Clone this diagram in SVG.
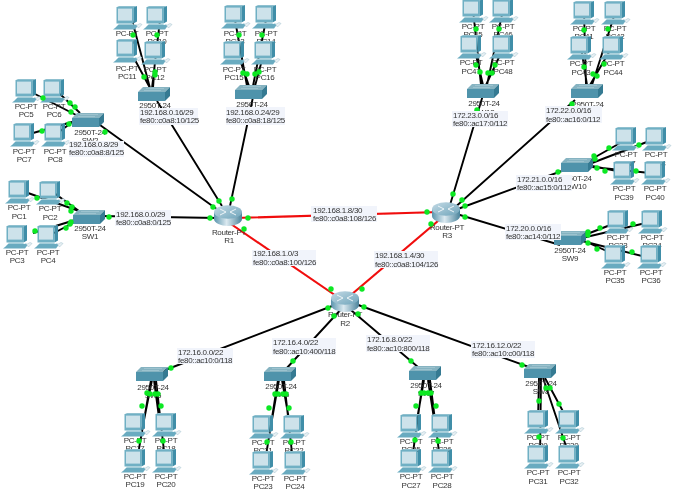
<svg xmlns="http://www.w3.org/2000/svg" width="676" height="494" viewBox="0 0 676 494">
<style>
text{font-family:"Liberation Sans",Arial,sans-serif;font-size:8px;letter-spacing:-.3px;fill:#333}
.n{text-anchor:middle}
.b{stroke:#000;stroke-width:1.9;fill:none}
.r{stroke:#f00a0a;stroke-width:2.100;fill:none}
.d{fill:#0ae824}
.lb{fill:#f1f4fb}
</style>
<defs>
<filter id="soft" filterUnits="userSpaceOnUse" x="0" y="0" width="676" height="494"><feGaussianBlur stdDeviation=".35"/></filter>
<linearGradient id="rg" x1="0" x2="1" y1="0" y2="0"><stop offset="0" stop-color="#5a95ad"/><stop offset=".45" stop-color="#dbe9f0"/><stop offset="1" stop-color="#4a839b"/></linearGradient>
<linearGradient id="rt" x1="0" x2="1" y1="0" y2="1"><stop offset="0" stop-color="#c4dae5"/><stop offset="1" stop-color="#6ea4ba"/></linearGradient>
<g id="pc">
<path d="M-10 1L-8 0H10L6.500 1.500Z" fill="#8fc0cf"/>
<rect x="-10.500" y="1" width="17" height="16.500" fill="#6fb0c4"/>
<rect x="-9" y="2.600" width="14" height="12" fill="#cde2ea"/>
<path d="M6.500 1.500L10 0V15.500L6.500 17.500Z" fill="#3f8ea8"/>
<path d="M-8 17.500H6L7 19H-9Z" fill="#a4cdd9"/>
<path d="M-9 19H7L9 18.500L11 19.500L8 23.500H-14L-12 22Z" fill="#69abc0"/>
<path d="M9.500 19.500L13 17.500L15 18.500L11.500 22Z" fill="#e8f0f3" stroke="#9cbfcc" stroke-width=".5"/>
</g>
<g id="sw">
<path d="M-11 0H16L11 5H-16Z" fill="#86b3c1"/>
<rect x="-16" y="5" width="27" height="9" fill="#4f93ab"/>
<path d="M11 5L16 0V9L11 14Z" fill="#357a92"/>
<path d="M-8 1.500H10M-10 3.500H7" stroke="#b4d2dc" stroke-width=".5"/>
</g>
<g id="rtr">
<path d="M-14 7V14C-14 18 -7 21 0 21S14 18 14 14V7Z" fill="url(#rg)"/>
<ellipse cx="0" cy="7" rx="14" ry="6.800" fill="url(#rt)"/>
<path d="M-8 4L-2 7M2 7L8 4M-8 10L-2 7M2 7L8 10" stroke="#eef5f8" stroke-width="1"/>
</g>
</defs>
<rect width="676" height="494" fill="#fff"/>
<g filter="url(#soft)">
<g id="connectors">
<path class="b" d="M100 216L218 218M100 125L218 210M157 101L222 206M253 97L230 206"/>
<path class="b" d="M483 95L450 205M575 100L452 210M570 168L455 210M450 212L560 245"/>
<path class="b" d="M340 303L160 372M345 305L285 370M345 305L425 373M350 302L540 371"/>
<path class="r" d="M235 218L440 212M228 222L345 302M445 215L345 300"/>
<path class="b" d="M28 193L79 211M50 190L79 211M33 233L75 220M50 235L75 222"/>
<path class="b" d="M35 94L80 117M60 94L80 113M33 133L72 122M55 135L75 120"/>
<path class="b" d="M132 20L150 88M160 20L152 88M135 60L150 88M155 60L153 88"/>
<path class="b" d="M235 20L247 86M266 20L253 86M240 60L249 86M262 60L255 86"/>
<path class="b" d="M473 10L481 85M503 10L487 85M476 55L483 85M500 55L486 85"/>
<path class="b" d="M584 12L586 85M616 10L592 85M581 47L587 85M612 47L590 85"/>
<path class="b" d="M622 142L590 160M652 140L592 163M622 172L592 166M650 173L592 167"/>
<path class="b" d="M618 222L582 236M650 222L582 238M618 256L582 240M650 258L582 241"/>
<path class="b" d="M137 460L151 380M143 425L152 380M160 425L154 380M165 460L156 380"/>
<path class="b" d="M265 462L278 380M271 425L279 380M290 425L282 380M293 462L284 380"/>
<path class="b" d="M412 460L423 380M416 425L424 380M435 425L428 380M440 460L430 380"/>
<path class="b" d="M538 420L539 378M540 460L541 378M569 455L543 378M566 417L545 378"/>
</g>
<g id="PC1"><use href="#pc" x="19" y="180"/><text class="n" x="19" y="210">PC-PT</text><text class="n" x="19" y="219">PC1</text></g>
<g id="PC2"><use href="#pc" x="50" y="181"/><text class="n" x="50" y="211">PC-PT</text><text class="n" x="50" y="220">PC2</text></g>
<g id="PC3"><use href="#pc" x="17" y="225"/><text class="n" x="17" y="255">PC-PT</text><text class="n" x="17" y="263">PC3</text></g>
<g id="PC4"><use href="#pc" x="48" y="225"/><text class="n" x="48" y="255">PC-PT</text><text class="n" x="48" y="263">PC4</text></g>
<g id="PC5"><use href="#pc" x="26" y="79"/><text class="n" x="26" y="109">PC-PT</text><text class="n" x="26" y="117">PC5</text></g>
<g id="PC6"><use href="#pc" x="54" y="79"/><text class="n" x="54" y="109">PC-PT</text><text class="n" x="54" y="117">PC6</text></g>
<g id="PC7"><use href="#pc" x="24" y="123"/><text class="n" x="24" y="154">PC-PT</text><text class="n" x="24" y="162">PC7</text></g>
<g id="PC8"><use href="#pc" x="55" y="123"/><text class="n" x="55" y="154">PC-PT</text><text class="n" x="55" y="162">PC8</text></g>
<g id="PC9"><use href="#pc" x="127" y="6"/><text class="n" x="127" y="36">PC-PT</text><text class="n" x="127" y="44">PC9</text></g>
<g id="PC10"><use href="#pc" x="157" y="6"/><text class="n" x="157" y="36">PC-PT</text><text class="n" x="157" y="44">PC10</text></g>
<g id="PC11"><use href="#pc" x="127" y="39"/><text class="n" x="127" y="71">PC-PT</text><text class="n" x="127" y="79">PC11</text></g>
<g id="PC12"><use href="#pc" x="155" y="41"/><text class="n" x="155" y="72">PC-PT</text><text class="n" x="155" y="80">PC12</text></g>
<g id="PC13"><use href="#pc" x="235" y="5"/><text class="n" x="235" y="36">PC-PT</text><text class="n" x="235" y="44">PC13</text></g>
<g id="PC14"><use href="#pc" x="266" y="5"/><text class="n" x="266" y="36">PC-PT</text><text class="n" x="266" y="44">PC14</text></g>
<g id="PC15"><use href="#pc" x="234" y="41"/><text class="n" x="234" y="72">PC-PT</text><text class="n" x="234" y="80">PC15</text></g>
<g id="PC16"><use href="#pc" x="265" y="41"/><text class="n" x="265" y="72">PC-PT</text><text class="n" x="265" y="80">PC16</text></g>
<g id="PC17"><use href="#pc" x="135" y="413"/><text class="n" x="135" y="443">PC-PT</text><text class="n" x="135" y="451">PC17</text></g>
<g id="PC18"><use href="#pc" x="166" y="413"/><text class="n" x="166" y="443">PC-PT</text><text class="n" x="166" y="451">PC18</text></g>
<g id="PC19"><use href="#pc" x="135" y="449"/><text class="n" x="135" y="479">PC-PT</text><text class="n" x="135" y="487">PC19</text></g>
<g id="PC20"><use href="#pc" x="166" y="449"/><text class="n" x="166" y="479">PC-PT</text><text class="n" x="166" y="487">PC20</text></g>
<g id="PC21"><use href="#pc" x="263" y="415"/><text class="n" x="263" y="445">PC-PT</text><text class="n" x="263" y="453">PC21</text></g>
<g id="PC22"><use href="#pc" x="294" y="415"/><text class="n" x="294" y="445">PC-PT</text><text class="n" x="294" y="453">PC22</text></g>
<g id="PC23"><use href="#pc" x="263" y="451"/><text class="n" x="263" y="481">PC-PT</text><text class="n" x="263" y="489">PC23</text></g>
<g id="PC24"><use href="#pc" x="295" y="451"/><text class="n" x="295" y="481">PC-PT</text><text class="n" x="295" y="489">PC24</text></g>
<g id="PC25"><use href="#pc" x="411" y="414"/><text class="n" x="411" y="444">PC-PT</text><text class="n" x="411" y="452">PC25</text></g>
<g id="PC26"><use href="#pc" x="442" y="414"/><text class="n" x="442" y="444">PC-PT</text><text class="n" x="442" y="452">PC26</text></g>
<g id="PC27"><use href="#pc" x="411" y="449"/><text class="n" x="411" y="479">PC-PT</text><text class="n" x="411" y="488">PC27</text></g>
<g id="PC28"><use href="#pc" x="442" y="449"/><text class="n" x="442" y="479">PC-PT</text><text class="n" x="442" y="488">PC28</text></g>
<g id="PC29"><use href="#pc" x="538" y="410"/><text class="n" x="538" y="440">PC-PT</text><text class="n" x="538" y="448">PC29</text></g>
<g id="PC30"><use href="#pc" x="569" y="410"/><text class="n" x="569" y="440">PC-PT</text><text class="n" x="569" y="448">PC30</text></g>
<g id="PC31"><use href="#pc" x="538" y="445"/><text class="n" x="538" y="475">PC-PT</text><text class="n" x="538" y="484">PC31</text></g>
<g id="PC32"><use href="#pc" x="569" y="445"/><text class="n" x="569" y="475">PC-PT</text><text class="n" x="569" y="484">PC32</text></g>
<g id="PC33"><use href="#pc" x="618" y="210"/><text class="n" x="618" y="240">PC-PT</text><text class="n" x="618" y="248">PC33</text></g>
<g id="PC34"><use href="#pc" x="652" y="210"/><text class="n" x="652" y="240">PC-PT</text><text class="n" x="652" y="248">PC34</text></g>
<g id="PC35"><use href="#pc" x="615" y="245"/><text class="n" x="615" y="275">PC-PT</text><text class="n" x="615" y="283">PC35</text></g>
<g id="PC36"><use href="#pc" x="651" y="245"/><text class="n" x="651" y="275">PC-PT</text><text class="n" x="651" y="283">PC36</text></g>
<g id="PC37"><use href="#pc" x="626" y="127"/><text class="n" x="626" y="157">PC-PT</text><text class="n" x="626" y="166">PC37</text></g>
<g id="PC38"><use href="#pc" x="656" y="127"/><text class="n" x="656" y="157">PC-PT</text><text class="n" x="656" y="166">PC38</text></g>
<g id="PC39"><use href="#pc" x="624" y="161"/><text class="n" x="624" y="191">PC-PT</text><text class="n" x="624" y="200">PC39</text></g>
<g id="PC40"><use href="#pc" x="655" y="161"/><text class="n" x="655" y="191">PC-PT</text><text class="n" x="655" y="200">PC40</text></g>
<g id="PC41"><use href="#pc" x="584" y="1"/><text class="n" x="584" y="31">PC-PT</text><text class="n" x="584" y="39">PC41</text></g>
<g id="PC42"><use href="#pc" x="615" y="1"/><text class="n" x="615" y="31">PC-PT</text><text class="n" x="615" y="39">PC42</text></g>
<g id="PC43"><use href="#pc" x="581" y="36"/><text class="n" x="581" y="66">PC-PT</text><text class="n" x="581" y="75">PC43</text></g>
<g id="PC44"><use href="#pc" x="613" y="36"/><text class="n" x="613" y="66">PC-PT</text><text class="n" x="613" y="75">PC44</text></g>
<g id="PC45"><use href="#pc" x="473" y="-1"/><text class="n" x="473" y="29">PC-PT</text><text class="n" x="473" y="37">PC45</text></g>
<g id="PC46"><use href="#pc" x="503" y="-1"/><text class="n" x="503" y="29">PC-PT</text><text class="n" x="503" y="37">PC46</text></g>
<g id="PC47"><use href="#pc" x="471" y="35"/><text class="n" x="471" y="65">PC-PT</text><text class="n" x="471" y="74">PC47</text></g>
<g id="PC48"><use href="#pc" x="503" y="35"/><text class="n" x="503" y="65">PC-PT</text><text class="n" x="503" y="74">PC48</text></g>
<g id="SW1"><use href="#sw" x="89" y="210"/><text class="n" x="90" y="231">2950T-24</text><text class="n" x="90" y="239">SW1</text></g>
<g id="SW2"><use href="#sw" x="88" y="113"/><text class="n" x="90" y="135">2950T-24</text><text class="n" x="90" y="143">SW2</text></g>
<g id="SW3"><use href="#sw" x="154" y="87"/><text class="n" x="155" y="108">2950T-24</text><text class="n" x="155" y="117">SW3</text></g>
<g id="SW4"><use href="#sw" x="251" y="85"/><text class="n" x="252" y="107">2950T-24</text><text class="n" x="252" y="116">SW4</text></g>
<g id="SW5"><use href="#sw" x="152" y="367"/><text class="n" x="153" y="390">2950T-24</text><text class="n" x="153" y="398">SW5</text></g>
<g id="SW6"><use href="#sw" x="280" y="367"/><text class="n" x="281" y="389">2950T-24</text><text class="n" x="281" y="397">SW6</text></g>
<g id="SW7"><use href="#sw" x="425" y="366"/><text class="n" x="426" y="388">2950T-24</text><text class="n" x="426" y="396">SW7</text></g>
<g id="SW8"><use href="#sw" x="540" y="364"/><text class="n" x="541" y="386">2950T-24</text><text class="n" x="541" y="394">SW8</text></g>
<g id="SW9"><use href="#sw" x="570" y="231"/><text class="n" x="570" y="253">2950T-24</text><text class="n" x="570" y="261">SW9</text></g>
<g id="SW10"><use href="#sw" x="577" y="158"/><text class="n" x="576" y="181">2950T-24</text><text class="n" x="576" y="189">SW10</text></g>
<g id="SW11"><use href="#sw" x="587" y="84"/><text class="n" x="588" y="107">2950T-24</text><text class="n" x="588" y="115">SW11</text></g>
<g id="SW12"><use href="#sw" x="483" y="84"/><text class="n" x="484" y="106">2950T-24</text><text class="n" x="484" y="115">SW12</text></g>
<g id="R1"><use href="#rtr" x="228" y="205"/><text class="n" x="229" y="235">Router-PT</text><text class="n" x="229" y="243">R1</text></g>
<g id="R2"><use href="#rtr" x="345" y="291"/><text class="n" x="345" y="317">Router-PT</text><text class="n" x="345" y="326">R2</text></g>
<g id="R3"><use href="#rtr" x="446" y="202"/><text class="n" x="447" y="230">Router-PT</text><text class="n" x="447" y="238">R3</text></g>
<g id="link-lights" class="d">
<circle cx="109" cy="217" r="2.700"/><circle cx="210" cy="218" r="2.700"/><circle cx="105" cy="132" r="2.700"/><circle cx="213" cy="207" r="2.700"/><circle cx="219" cy="201" r="2.700"/><circle cx="232" cy="199" r="2.700"/><circle cx="248" cy="218" r="2.700"/><circle cx="427" cy="212" r="2.700"/><circle cx="244" cy="229" r="2.700"/><circle cx="331" cy="289" r="2.700"/><circle cx="431" cy="224" r="2.700"/><circle cx="362" cy="289" r="2.700"/>
<circle cx="477" cy="110" r="2.700"/><circle cx="453" cy="194" r="2.700"/><circle cx="572" cy="104" r="2.700"/><circle cx="462" cy="200" r="2.700"/><circle cx="558" cy="172" r="2.700"/><circle cx="465" cy="206" r="2.700"/><circle cx="465" cy="217" r="2.700"/>
<circle cx="328" cy="308" r="2.700"/><circle cx="171" cy="368" r="2.700"/><circle cx="334" cy="316" r="2.700"/><circle cx="293" cy="361" r="2.700"/><circle cx="358" cy="314" r="2.700"/><circle cx="411" cy="361" r="2.700"/><circle cx="364" cy="307" r="2.700"/><circle cx="522" cy="365" r="2.700"/>
<circle cx="37" cy="198" r="2.700"/><circle cx="67" cy="203" r="2.700"/><circle cx="72" cy="207" r="2.700"/><circle cx="71" cy="211" r="2.700"/><circle cx="35" cy="231" r="2.700"/><circle cx="71" cy="222" r="2.700"/><circle cx="66" cy="228" r="2.700"/><circle cx="70" cy="224" r="2.700"/>
<circle cx="43" cy="98" r="2.700"/><circle cx="71" cy="112" r="2.700"/><circle cx="70" cy="103" r="2.700"/><circle cx="75" cy="107" r="2.700"/><circle cx="42" cy="131" r="2.700"/><circle cx="69" cy="124" r="2.700"/>
<circle cx="133" cy="35" r="2.700"/><circle cx="144" cy="77" r="2.700"/><circle cx="157" cy="35" r="2.700"/><circle cx="155" cy="72" r="2.700"/><circle cx="155" cy="75" r="2.700"/>
<circle cx="239" cy="35" r="2.700"/><circle cx="262" cy="35" r="2.700"/><circle cx="243" cy="73" r="2.700"/><circle cx="247" cy="74" r="2.700"/><circle cx="255" cy="74" r="2.700"/><circle cx="259" cy="72" r="2.700"/>
<circle cx="476" cy="29" r="2.700"/><circle cx="499" cy="29" r="2.700"/><circle cx="476" cy="65" r="2.700"/><circle cx="480" cy="72" r="2.700"/><circle cx="495" cy="65" r="2.700"/><circle cx="488" cy="73" r="2.700"/><circle cx="492" cy="73" r="2.700"/>
<circle cx="584" cy="30" r="2.700"/><circle cx="608" cy="29" r="2.700"/><circle cx="584" cy="67" r="2.700"/><circle cx="604" cy="64" r="2.700"/><circle cx="593" cy="74" r="2.700"/><circle cx="597" cy="76" r="2.700"/>
<circle cx="609" cy="148" r="2.700"/><circle cx="594" cy="156" r="2.700"/><circle cx="639" cy="145" r="2.700"/><circle cx="595" cy="159" r="2.700"/><circle cx="597" cy="168" r="2.700"/><circle cx="605" cy="171" r="2.700"/><circle cx="636" cy="171" r="2.700"/>
<circle cx="600" cy="228" r="2.700"/><circle cx="588" cy="232" r="2.700"/><circle cx="633" cy="224" r="2.700"/><circle cx="588" cy="235" r="2.700"/><circle cx="588" cy="243" r="2.700"/><circle cx="597" cy="249" r="2.700"/><circle cx="632" cy="252" r="2.700"/>
<circle cx="142" cy="406" r="2.700"/><circle cx="161" cy="406" r="2.700"/><circle cx="139" cy="441" r="2.700"/><circle cx="163" cy="441" r="2.700"/><circle cx="147" cy="393" r="2.700"/><circle cx="150" cy="394" r="2.700"/><circle cx="155" cy="394" r="2.700"/><circle cx="158" cy="394" r="2.700"/>
<circle cx="269" cy="408" r="2.700"/><circle cx="289" cy="408" r="2.700"/><circle cx="267" cy="442" r="2.700"/><circle cx="291" cy="442" r="2.700"/><circle cx="275" cy="394" r="2.700"/><circle cx="278" cy="394" r="2.700"/><circle cx="283" cy="394" r="2.700"/><circle cx="286" cy="394" r="2.700"/>
<circle cx="416" cy="406" r="2.700"/><circle cx="436" cy="406" r="2.700"/><circle cx="415" cy="440" r="2.700"/><circle cx="438" cy="441" r="2.700"/><circle cx="421" cy="393" r="2.700"/><circle cx="424" cy="393" r="2.700"/><circle cx="428" cy="393" r="2.700"/><circle cx="431" cy="393" r="2.700"/>
<circle cx="539" cy="401" r="2.700"/><circle cx="559" cy="404" r="2.700"/><circle cx="539" cy="437" r="2.700"/><circle cx="563" cy="438" r="2.700"/><circle cx="546" cy="388" r="2.700"/><circle cx="550" cy="388" r="2.700"/>
</g>
<g id="link-labels">
<rect class="lb" x="115" y="210" width="56" height="16"/><text x="116" y="217">192.168.0.0/29</text><text x="116" y="225">fe80::c0a8:0/125</text>
<rect class="lb" x="69" y="141" width="55" height="16"/><text x="69" y="147">192.168.0.8/29</text><text x="69" y="155">fe80::c0a8:8/125</text>
<rect class="lb" x="139" y="108" width="59" height="17"/><text x="140" y="115">192.168.0.16/29</text><text x="140" y="123">fe80::c0a8:10/125</text>
<rect class="lb" x="226" y="107" width="59" height="18"/><text x="226" y="115">192.168.0.24/29</text><text x="226" y="123">fe80::c0a8:18/125</text>
<rect class="lb" x="311" y="206" width="66" height="16"/><text x="313" y="213">192.168.1.8/30</text><text x="313" y="221">fe80::c0a8:108/126</text>
<rect class="lb" x="252" y="250" width="64" height="16"/><text x="253" y="256">192.168.1.0/3</text><text x="253" y="265">fe80::c0a8:100/126</text>
<rect class="lb" x="374" y="251" width="64" height="17"/><text x="375" y="258">192.168.1.4/30</text><text x="375" y="267">fe80::c0a8:104/126</text>
<rect class="lb" x="452" y="111" width="56" height="16"/><text x="453" y="118">172.23.0.0/16</text><text x="453" y="126">fe80::ac17:0/112</text>
<rect class="lb" x="545" y="106" width="57" height="17"/><text x="546" y="113">172.22.0.0/16</text><text x="546" y="122">fe80::ac16:0/112</text>
<rect class="lb" x="516" y="175" width="56" height="16"/><text x="517" y="182">172.21.0.0/16</text><text x="517" y="190">fe80::ac15:0/112</text>
<rect class="lb" x="505" y="224" width="56" height="16"/><text x="506" y="231">172.20.0.0/16</text><text x="506" y="239">fe80::ac14:0/112</text>
<rect class="lb" x="177" y="348" width="56" height="16"/><text x="178" y="355">172.16.0.0/22</text><text x="178" y="363">fe80::ac10:0/118</text>
<rect class="lb" x="272" y="338" width="64" height="17"/><text x="273" y="345">172.16.4.0/22</text><text x="273" y="354">fe80::ac10:400/118</text>
<rect class="lb" x="366" y="335" width="64" height="17"/><text x="367" y="342">172.16.8.0/22</text><text x="367" y="351">fe80::ac10:800/118</text>
<rect class="lb" x="471" y="341" width="64" height="17"/><text x="472" y="348">172.16.12.0/22</text><text x="472" y="356">fe80::ac10:c00/118</text>
</g>
</g>
</svg>
